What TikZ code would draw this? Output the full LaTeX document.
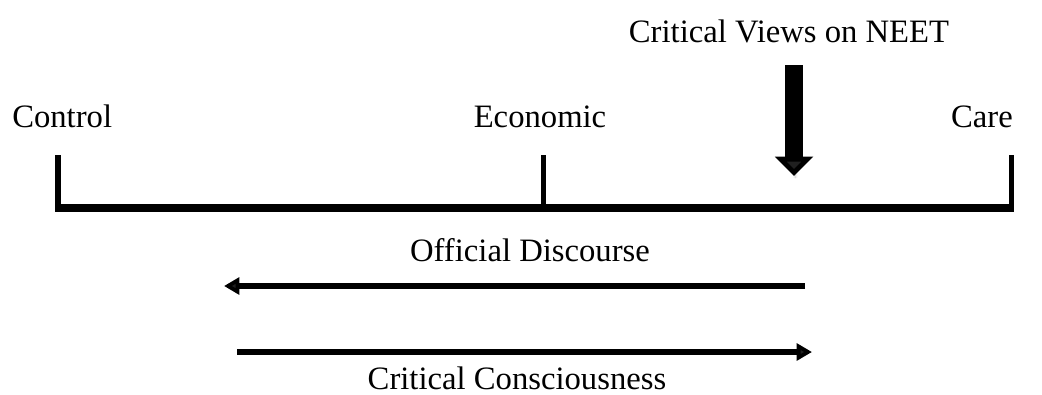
\documentclass[tikz,border=0pt]{standalone}
\usepackage{fontspec}
\setmainfont{Liberation Serif}
\usetikzlibrary{arrows.meta}
\usetikzlibrary{shadows.blur}

\tikzset{
  lbl/.style={inner sep=0pt, font=\fontsize{24.5}{29}\selectfont},
  scaleline/.style={line width=6pt, line cap=butt},
  tickline/.style={line width=3.8pt},
  thinarrow/.style={line width=3.8pt, -{Triangle[length=11.5pt, width=12.5pt]}},
  bigarrow/.style={line width=13.5pt, -{Triangle[length=14.5pt, width=28pt]}}
}

\begin{document}
\begin{tikzpicture}[x=0.75pt,y=0.75pt,yscale=-1,xscale=1]
\useasboundingbox (0,0) rectangle (1042,394);

%Scale ends and middle
\coordinate (ctlTop) at (58,155);
\coordinate (ctlBot) at (58,212);
\coordinate (ecoTop) at (543.5,155);
\coordinate (ecoBot) at (543.5,206);
\coordinate (careTop) at (1011.5,155);
\coordinate (careBot) at (1011.5,212);

%Straight Lines
\draw [scaleline] (56,208) -- (1014,208) ;
\draw [tickline] (ctlTop) -- (ctlBot) ;
\draw [tickline] (ecoTop) -- (ecoBot) ;
\draw [tickline] (careTop) -- (careBot) ;

% Text Node
\node (control) [lbl, anchor=base west] at (12,127) {Control};
\node (economic) [lbl, anchor=base] at (540,127) {Economic};
\node (care) [lbl, anchor=base east] at (1013,127) {Care};
\node (views) [lbl, anchor=base] at (789,42) {Critical Views on NEET};
\node (official) [lbl, anchor=base] at (530,261) {Official Discourse};
\node (conscious) [lbl, anchor=base] at (517,389) {Critical Consciousness};

%Arrows
\coordinate (viewsTop) at (794,65);
\coordinate (viewsTip) at (794,176);
\draw [bigarrow, blur shadow={shadow xshift=1pt, shadow yshift=-1.5pt, shadow opacity=25, shadow blur steps=4}] (viewsTop) -- (viewsTip) ;

\coordinate (offStart) at (805,286);
\coordinate (offEnd) at (224,286);
\draw [thinarrow] (offStart) -- (offEnd) ;

\coordinate (conStart) at (237,352);
\coordinate (conEnd) at (812,352);
\draw [thinarrow] (conStart) -- (conEnd) ;

\end{tikzpicture}
\end{document}
